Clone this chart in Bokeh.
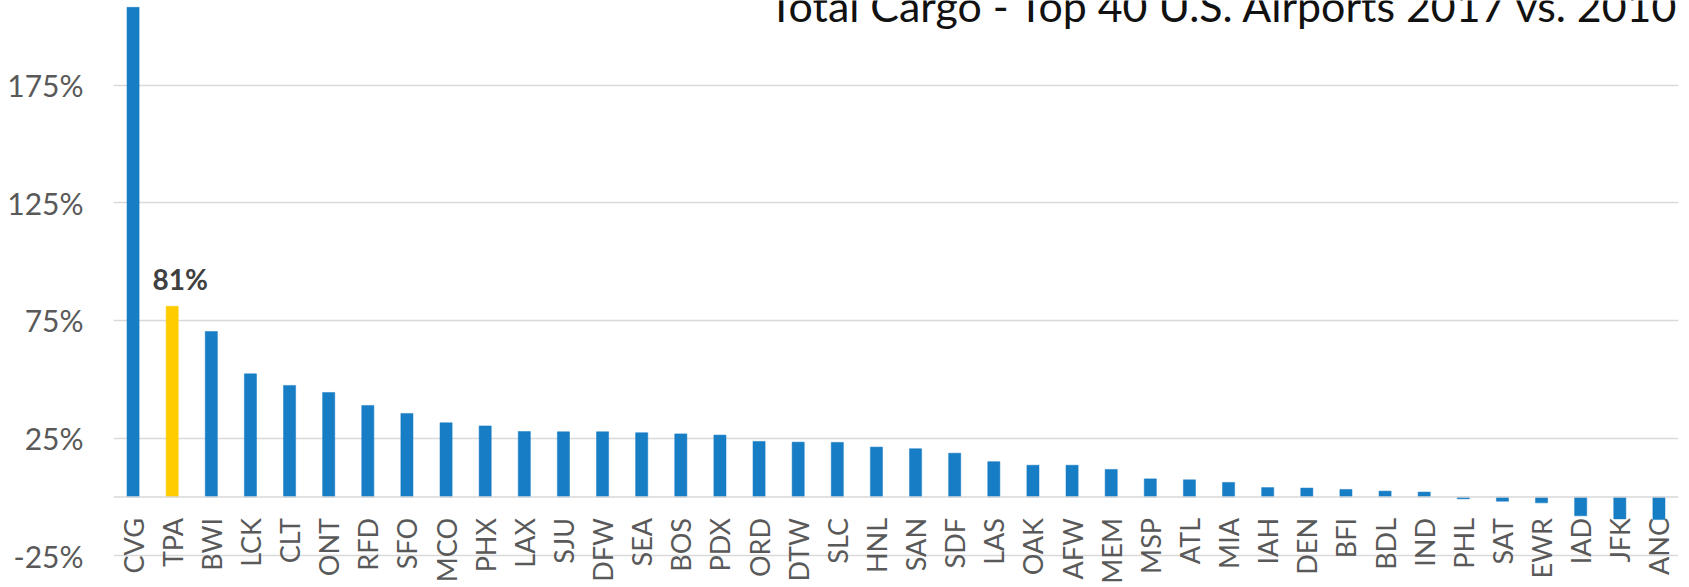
import math
from bokeh.plotting import figure
from bokeh.models import (FactorRange, Range1d, FixedTicker, PrintfTickFormatter,
                          Span, Label, LabelSet, ColumnDataSource)
from bokeh.core.properties import value
from bokeh.embed import file_html
from bokeh.resources import INLINE

# ---- data ----
airports = ["CVG", "TPA", "BWI", "LCK", "CLT", "ONT", "RFD", "SFO", "MCO", "PHX",
            "LAX", "SJU", "DFW", "SEA", "BOS", "PDX", "ORD", "DTW", "SLC", "HNL",
            "SAN", "SDF", "LAS", "OAK", "AFW", "MEM", "MSP", "ATL", "MIA", "IAH",
            "DEN", "BFI", "BDL", "IND", "PHL", "SAT", "EWR", "IAD", "JFK", "ANC"]
growth_pct = [208, 81, 70.3, 52.3, 47.4, 44.4, 38.9, 35.5, 31.5, 30.2,
              27.8, 27.7, 27.7, 27.3, 26.8, 26.3, 23.6, 23.3, 23.2, 21.2,
              20.5, 18.6, 15.0, 13.5, 13.5, 11.7, 7.7, 7.3, 6.2, 4.0,
              3.8, 3.2, 2.5, 2.1, -0.8, -1.8, -2.5, -8.0, -9.3, -9.6]
highlight = "TPA"
y_ticks = [-25, 25, 75, 125, 175]
title_text = "Total Cargo - Top 40 U.S. Airports 2017 vs. 2010"

BLUE = "#177DC4"
GOLD = "#FFCC00"
GRID = "#D9D9D9"
TXT = "#595959"
FONT = "Lato"

colors = [GOLD if a == highlight else BLUE for a in airports]
src = ColumnDataSource(dict(x=airports, top=growth_pct, color=colors,
                            zero=[0] * len(airports)))
hi = airports.index(highlight)
hsrc = ColumnDataSource(dict(x=[highlight], y=[growth_pct[hi]],
                             t=[f"{round(growth_pct[hi])}%"]))

p = figure(x_range=FactorRange(*airports), y_range=Range1d(-38.45, 210.9),
           width=1689, height=587, output_backend="svg", toolbar_location=None,
           min_border_left=113, min_border_right=11, min_border_top=0,
           min_border_bottom=0, outline_line_color=None)

p.xaxis.visible = False
p.xgrid.visible = False

yax = p.yaxis[0]
yax.ticker = FixedTicker(ticks=y_ticks)
yax.formatter = PrintfTickFormatter(format="%d%%")
yax.axis_line_color = None
yax.major_tick_line_color = None
yax.minor_tick_line_color = None
yax.major_tick_out = 0
yax.major_tick_in = 0
yax.major_label_standoff = 30
yax.major_label_text_font = FONT
yax.major_label_text_font_size = "30px"
yax.major_label_text_color = TXT

p.ygrid.ticker = FixedTicker(ticks=y_ticks)
p.ygrid.grid_line_color = GRID
p.ygrid.grid_line_width = 1.6

p.add_layout(Span(location=0, dimension="width", line_color=GRID, line_width=1.6))

p.vbar(x="x", top="top", bottom=0, width=0.31, fill_color="color",
       line_color="color", line_width=0.5, source=src)

# category labels at the zero line
p.add_layout(LabelSet(x="x", y="zero", text="x", source=src, angle=math.pi / 2,
                      text_align="right", text_baseline="middle", y_offset=-21,
                      text_font=value(FONT), text_font_size="27px",
                      text_color=TXT))

# data label for highlighted bar
p.add_layout(LabelSet(x="x", y="y", text="t", source=hsrc,
                      text_align="center", text_baseline="alphabetic",
                      y_offset=16, x_offset=8,
                      text_font=value(FONT), text_font_size="28px",
                      text_font_style="bold", text_color="#404040"))

p.add_layout(Label(x=40.04, y=208.9, text=title_text, text_align="right",
                   text_baseline="alphabetic", text_font=FONT,
                   text_font_size="42.9px", text_color="#111111"))

open("out.html", "w").write(file_html(p, INLINE))
